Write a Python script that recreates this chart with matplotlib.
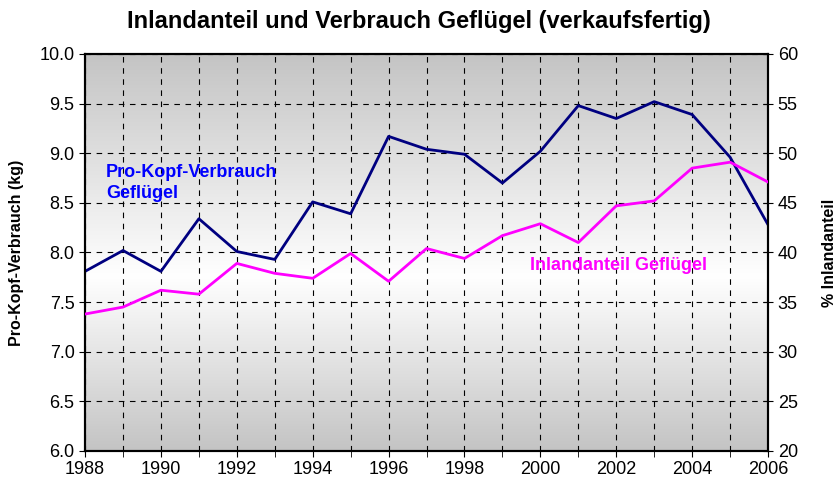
import numpy as np
import matplotlib.pyplot as plt
from matplotlib.colors import LinearSegmentedColormap
from matplotlib.ticker import MultipleLocator

plt.rcParams['font.family'] = ['Liberation Sans', 'DejaVu Sans']

# Daten
jahre = list(range(1988, 2007))
verbrauch_kg = [7.81, 8.02, 7.81, 8.34, 8.01, 7.93, 8.51, 8.39, 9.17, 9.04,
                8.99, 8.70, 9.02, 9.48, 9.35, 9.52, 9.39, 8.96, 8.28]
inlandanteil = [33.8, 34.5, 36.2, 35.8, 38.9, 37.9, 37.4, 39.9, 37.1, 40.4,
                39.4, 41.7, 42.9, 41.0, 44.7, 45.2, 48.5, 49.1, 47.1]

fig = plt.figure(figsize=(8.37, 4.9), dpi=100)
ax = fig.add_axes([0.1016, 0.0796, 0.816, 0.8102])

# Hintergrund mit Farbverlauf (grau - weiss - grau)
cmap = LinearSegmentedColormap.from_list(
    'bg', [(0.0, '#c4c4c4'), (0.44, '#ffffff'), (1.0, '#c4c4c4')])
grad = np.linspace(0, 1, 256).reshape(-1, 1)
ax.imshow(grad, aspect='auto', cmap=cmap, origin='lower',
          extent=[1988, 2006, 6.0, 10.0], zorder=0)

ax.plot(jahre, verbrauch_kg, color='#000080', lw=2.0, zorder=3)
ax.set_xlim(1988, 2006)
ax.set_ylim(6.0, 10.0)
ax.xaxis.set_major_locator(MultipleLocator(2))
ax.xaxis.set_minor_locator(MultipleLocator(1))
ax.yaxis.set_major_locator(MultipleLocator(0.5))
ax.yaxis.set_major_formatter(plt.FormatStrFormatter('%.1f'))
ax.grid(which='both', axis='x', color='black', ls=(0, (5, 5)), lw=0.8, zorder=1)
ax.grid(which='major', axis='y', color='black', ls=(0, (5, 5)), lw=0.8, zorder=1)
ax.set_axisbelow(False)
ax.tick_params(axis='both', which='major', labelsize=13, direction='out', length=4)
ax.tick_params(axis='x', which='minor', direction='out', length=4)
ax.set_ylabel('Pro-Kopf-Verbrauch (kg)', fontsize=11.5, fontweight='bold', labelpad=11)

ax2 = ax.twinx()
ax2.plot(jahre, inlandanteil, color='#ff00ff', lw=2.0, zorder=3)
ax2.set_ylim(20, 60)
ax2.yaxis.set_major_locator(MultipleLocator(5))
ax2.tick_params(axis='y', labelsize=13, direction='inout', length=7)
ax2.set_ylabel('% Inlandanteil', fontsize=11.5, fontweight='bold', labelpad=17)

for a in (ax, ax2):
    for s in a.spines.values():
        s.set_linewidth(1.5)

ax.text(1988.55, 8.55, 'Pro-Kopf-Verbrauch\nGeflügel', color='#0000ff',
        fontsize=13, fontweight='bold', linespacing=1.3, zorder=4)
ax2.text(1999.73, 38.2, 'Inlandanteil Geflügel', color='#ff00ff',
         fontsize=13, fontweight='bold', zorder=4)

fig.suptitle('Inlandanteil und Verbrauch Geflügel (verkaufsfertig)',
             fontsize=17, fontweight='bold', y=0.98)

fig.savefig('out.png', dpi=100)
